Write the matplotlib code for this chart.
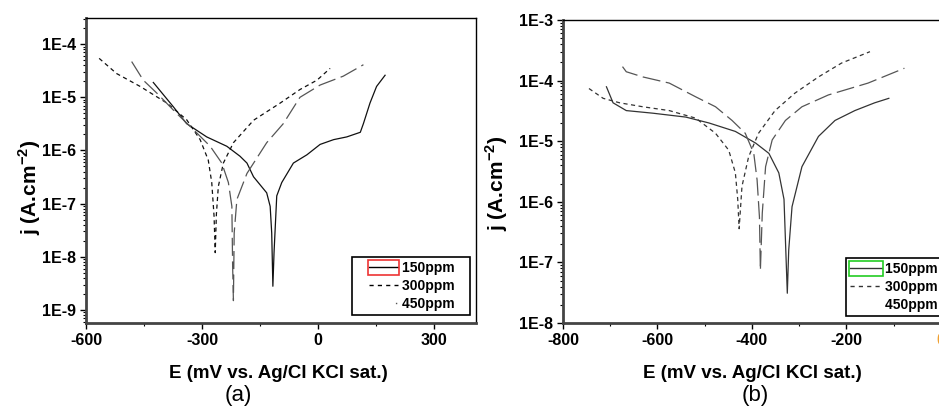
import numpy as np
import matplotlib
matplotlib.use('Agg')
import matplotlib.pyplot as plt
from matplotlib.ticker import FixedLocator, FuncFormatter, LogLocator, NullFormatter
from matplotlib.lines import Line2D
from matplotlib.legend_handler import HandlerLine2D
from matplotlib.patches import Rectangle

plt.rcParams['font.family'] = ['Liberation Sans', 'DejaVu Sans']
plt.rcParams['mathtext.fontset'] = 'custom'
plt.rcParams['mathtext.rm'] = 'Liberation Sans:bold'
plt.rcParams['mathtext.bf'] = 'Liberation Sans:bold'
plt.rcParams['lines.scale_dashes'] = False

labels = ['150ppm', '300ppm', '450ppm']

# panel (a): potential (mV) and current density (A/cm2)
a_e_150 = [-426, -374, -340, -288, -236, -202, -184, -167, -133, -124, -120, -117, -114,
           -107, -94, -64, -29, 5, 40, 74, 109, 117, 134, 151, 173]
a_j_150 = [1.9e-5, 6.6e-6, 3.2e-6, 1.8e-6, 1.2e-6, 7.8e-7, 5.8e-7, 3.2e-7, 1.6e-7, 8.9e-8,
           2.8e-8, 2.8e-9, 1.2e-8, 1.4e-7, 2.5e-7, 5.8e-7, 8.3e-7, 1.3e-6, 1.6e-6, 1.8e-6,
           2.2e-6, 3.2e-6, 7.8e-6, 1.6e-5, 2.6e-5]
a_e_300 = [-566, -521, -460, -391, -340, -305, -284, -275, -269, -266, -263, -258, -245,
           -219, -167, -98, -47, -3, 31]
a_j_300 = [5.4e-5, 2.8e-5, 1.6e-5, 7.8e-6, 3.8e-6, 1.6e-6, 6.6e-7, 2.5e-7, 5.8e-8, 1.2e-8,
           6.3e-8, 2.1e-7, 5.8e-7, 1.4e-6, 3.7e-6, 7.8e-6, 1.4e-5, 2.1e-5, 3.5e-5]
a_e_450 = [-482, -452, -417, -366, -323, -279, -249, -232, -223, -221, -219, -217, -210,
           -184, -133, -90, -47, 5, 65, 117]
a_j_450 = [4.7e-5, 2.1e-5, 1.2e-5, 5.0e-6, 2.5e-6, 1.2e-6, 5.8e-7, 2.5e-7, 8.9e-8, 6.6e-9,
           1.5e-9, 2.8e-8, 1.2e-7, 3.7e-7, 1.4e-6, 3.2e-6, 1.0e-5, 1.7e-5, 2.5e-5, 4.1e-5]

# panel (b)
b_e_150 = [-708, -694, -666, -610, -540, -491, -435, -392, -364, -343, -332, -325, -322,
           -315, -294, -259, -224, -182, -140, -110]
b_j_150 = [7.9e-5, 4.3e-5, 3.2e-5, 2.9e-5, 2.5e-5, 2.0e-5, 1.45e-5, 9.3e-6, 6.3e-6, 3.0e-6,
           1.1e-6, 3.1e-8, 1.6e-7, 8.3e-7, 3.8e-6, 1.2e-5, 2.2e-5, 3.2e-5, 4.3e-5, 5.1e-5]
b_e_300 = [-745, -715, -680, -631, -575, -519, -477, -449, -435, -430, -427, -421, -407,
           -386, -351, -309, -259, -210, -150]
b_j_300 = [7.4e-5, 5.1e-5, 4.3e-5, 3.7e-5, 3.2e-5, 2.4e-5, 1.35e-5, 7.1e-6, 3.0e-6, 1.1e-6,
           3.6e-7, 1.8e-6, 5.5e-6, 1.35e-5, 3.2e-5, 6.2e-5, 1.15e-4, 1.95e-4, 3.0e-4]
b_e_450 = [-674, -666, -631, -575, -519, -477, -442, -414, -396, -389, -384, -382, -378,
           -371, -357, -329, -294, -238, -154, -77]
b_j_450 = [1.7e-4, 1.4e-4, 1.15e-4, 9.1e-5, 5.4e-5, 3.7e-5, 2.2e-5, 1.35e-5, 6.3e-6, 2.3e-6,
           5.6e-7, 7.4e-8, 6.5e-7, 3.8e-6, 1.05e-5, 2.2e-5, 3.7e-5, 5.8e-5, 9.1e-5, 1.6e-4]

SHORT = (0, (3, 2.5))
LONG = (0, (13, 4))


def setup_axes(ax, xlim, ylim, xmajor, xminor):
    ax.set_yscale('log')
    ax.set_xlim(*xlim)
    ax.set_ylim(*ylim)
    ax.xaxis.set_major_locator(FixedLocator(xmajor))
    ax.xaxis.set_minor_locator(FixedLocator(xminor))
    ax.yaxis.set_major_locator(LogLocator(base=10, numticks=20))
    ax.yaxis.set_minor_locator(LogLocator(base=10, subs=np.arange(2, 10), numticks=20))
    ax.yaxis.set_minor_formatter(NullFormatter())
    ax.yaxis.set_major_formatter(FuncFormatter(lambda v, p: f'1E{int(round(np.log10(v)))}'))
    ax.xaxis.set_major_formatter(FuncFormatter(lambda v, p: f'{int(v)}'))
    ax.tick_params(which='major', direction='out', length=4, width=1, labelsize=11.5, pad=3)
    ax.tick_params(which='minor', direction='out', length=2.5, width=0.8)
    for lab in ax.get_xticklabels() + ax.get_yticklabels():
        lab.set_fontweight('bold')
    for side in ['left', 'bottom']:
        ax.spines[side].set_linewidth(2)
        ax.spines[side].set_color('#444444')
    for side in ['top', 'right']:
        ax.spines[side].set_linewidth(1)
        ax.spines[side].set_color('black')


fig = plt.figure(figsize=(9.39, 4.12), dpi=100)
ax_a = fig.add_axes([86 / 939, 89 / 412, 390 / 939, 305 / 412])
ax_b = fig.add_axes([563 / 939, 89 / 412, 425 / 939, 303 / 412])

ax_a.plot(a_e_150, a_j_150, color='#111111', lw=0.9, ls='-')
ax_a.plot(a_e_300, a_j_300, color='#111111', lw=0.9, ls=SHORT)
ax_a.plot(a_e_450, a_j_450, color='#555555', lw=0.9, ls=LONG)
setup_axes(ax_a, (-600, 408), (5.7e-10, 3.1e-4), [-600, -300, 0, 300], [-450, -150, 150])

ax_b.plot(b_e_150, b_j_150, color='#333333', lw=0.9, ls='-')
ax_b.plot(b_e_300, b_j_300, color='#333333', lw=0.9, ls=SHORT)
ax_b.plot(b_e_450, b_j_450, color='#555555', lw=0.9, ls=LONG)
setup_axes(ax_b, (-800, 100), (1e-8, 1e-3), [-800, -600, -400, -200, 0],
           [-700, -500, -300, -100])
for lab in ax_b.get_xticklabels():
    if lab.get_text() == '0':
        lab.set_color('#f0a030')

# legends (xpad leaves empty room left of the handle lines)
leg_kw = dict(frameon=True, fancybox=False, edgecolor='black', framealpha=1,
              prop={'weight': 'bold', 'size': 10}, handletextpad=0.25,
              labelspacing=0.28, borderpad=0.3, borderaxespad=0)
leg_labels = [s + '   ' for s in labels]
h_a = [Line2D([], [], color='black', lw=1),
       Line2D([], [], color='black', lw=1, ls=(0, (3, 3))),
       Line2D([], [], color='#555555', lw=1, ls=(22, (1, 40)))]
leg_a = ax_a.legend(h_a, leg_labels, loc='lower right', bbox_to_anchor=(0.985, 0.026),
                    handlelength=3.0, handler_map={Line2D: HandlerLine2D(xpad=0.9)}, **leg_kw)
leg_a.get_frame().set_linewidth(1.2)

h_b = [Line2D([], [], color='#333333', lw=1),
       Line2D([], [], color='#333333', lw=1, ls=(0, (3, 3))),
       Line2D([], [], color='#555555', lw=1, ls='none')]
leg_b = ax_b.legend(h_b, leg_labels, loc='lower left', bbox_to_anchor=(0.665, 0.023),
                    handlelength=2.3, handler_map={Line2D: HandlerLine2D(xpad=0.05)}, **leg_kw)
leg_b.get_frame().set_linewidth(1.2)

# labels
for x, y in [(30, 187), (497, 183)]:
    fig.text(x / 939, 1 - y / 412, r'j (A.cm$^{\mathbf{-2}}$)', rotation=90,
             ha='center', va='center', fontsize=15, fontweight='bold')
for x in [278, 752]:
    fig.text(x / 939, 1 - 373 / 412, 'E (mV vs. Ag/Cl KCl sat.)', ha='center', va='center',
             fontsize=13.5, fontweight='bold')
fig.text(238 / 939, 1 - 396 / 412, '(a)', ha='center', va='center', fontsize=16)
fig.text(755 / 939, 1 - 396 / 412, '(b)', ha='center', va='center', fontsize=16)

# coloured boxes around the first legend handle
fig.canvas.draw()
renderer = fig.canvas.get_renderer()
inv = fig.transFigure.inverted()
for leg, col in [(leg_a, '#ee3333'), (leg_b, '#22cc22')]:
    bb = leg.legend_handles[0].get_window_extent(renderer)
    cy = (bb.y0 + bb.y1) / 2
    (x0, y0) = inv.transform((bb.x0 - 1, cy - 7.5))
    (x1, y1) = inv.transform((bb.x1 + 1, cy + 7.5))
    fig.add_artist(Rectangle((x0, y0), x1 - x0, y1 - y0, fill=False, edgecolor=col,
                             lw=1.2, transform=fig.transFigure))

fig.savefig('out.png', dpi=100)
